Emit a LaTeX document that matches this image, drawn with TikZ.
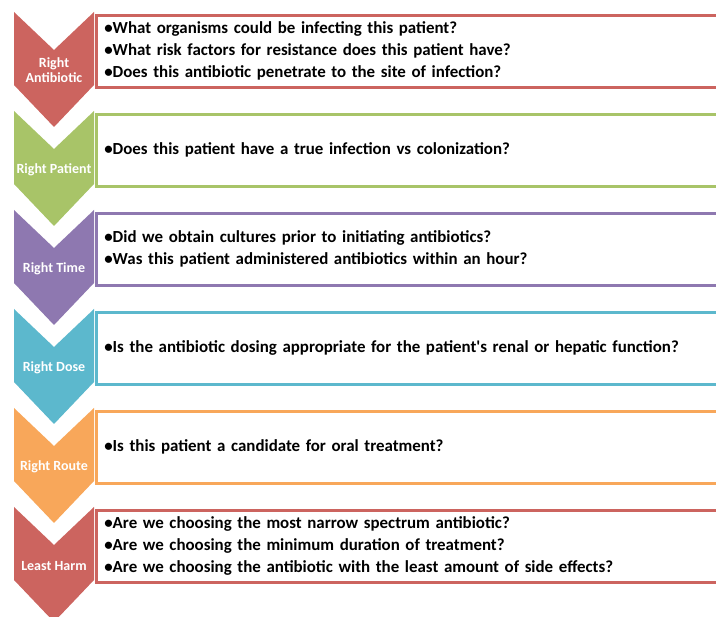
\documentclass[tikz,border=0pt]{standalone}
\usepackage{fontspec}
\setmainfont{Carlito}
\usepackage{tikz}
\usetikzlibrary{positioning}

\definecolor{cred}{RGB}{204,100,95}
\definecolor{cgreen}{RGB}{168,196,104}
\definecolor{cpurple}{RGB}{142,120,176}
\definecolor{cblue}{RGB}{92,184,205}
\definecolor{corange}{RGB}{248,167,90}

\begin{document}
\begin{tikzpicture}[
  x=1pt, y=-1pt,
  chev/.pic={\path[pic actions] (0,0) -- (40,38) -- (80,0) -- (80,73) -- (40,115) -- (0,73) -- cycle;},
  tag/.style={text=white, align=center, inner sep=0pt, font=\fontsize{14}{15}\selectfont\bfseries},
  qbox/.style={draw, line width=2.6pt, fill=white, anchor=north west, align=left, text width=612pt,
    minimum height=72pt, inner xsep=8pt, inner ysep=0pt, font=\fontsize{16.9}{22}\selectfont\bfseries},
]
\useasboundingbox (0,0) rectangle (716,617);
\clip (0,0) rectangle (716,617);
% right antibiotic
\pic[fill=cred] at (14,12) {chev};
\node[tag] (t1) at (54,70) {Right\\Antibiotic};
\node[qbox, draw=cred] (q1) at (95,14) {\textbullet What organisms could be infecting this patient?\\
  \textbullet What risk factors for resistance does this patient have?\\
  \textbullet Does this antibiotic penetrate to the site of infection?};
% right patient
\pic[fill=cgreen] at (14,111) {chev};
\node[tag] (t2) at (54,170) {Right Patient};
\node[qbox, draw=cgreen] (q2) at (95,113) {\textbullet Does this patient have a true infection vs colonization?};
% right time
\pic[fill=cpurple] at (14,210) {chev};
\node[tag] (t3) at (54,269) {Right Time};
\node[qbox, draw=cpurple] (q3) at (95,212) {\textbullet Did we obtain cultures prior to initiating antibiotics?\\
  \textbullet Was this patient administered antibiotics within an hour?};
% right dose
\pic[fill=cblue] at (14,309) {chev};
\node[tag] (t4) at (54,368) {Right Dose};
\node[qbox, draw=cblue] (q4) at (95,311) {\textbullet Is the antibiotic dosing appropriate for the patient\textquotesingle s renal or hepatic function?};
% right route
\pic[fill=corange] at (14,408) {chev};
\node[tag] (t5) at (54,467) {Right Route};
\node[qbox, draw=corange] (q5) at (95,410) {\textbullet Is this patient a candidate for oral treatment?};
% least harm
\pic[fill=cred] at (14,507) {chev};
\node[tag] (t6) at (54,566) {Least Harm};
\node[qbox, draw=cred] (q6) at (95,509) {\textbullet Are we choosing the most narrow spectrum antibiotic?\\
  \textbullet Are we choosing the minimum duration of treatment?\\
  \textbullet Are we choosing the antibiotic with the least amount of side effects?};
\end{tikzpicture}
\end{document}
